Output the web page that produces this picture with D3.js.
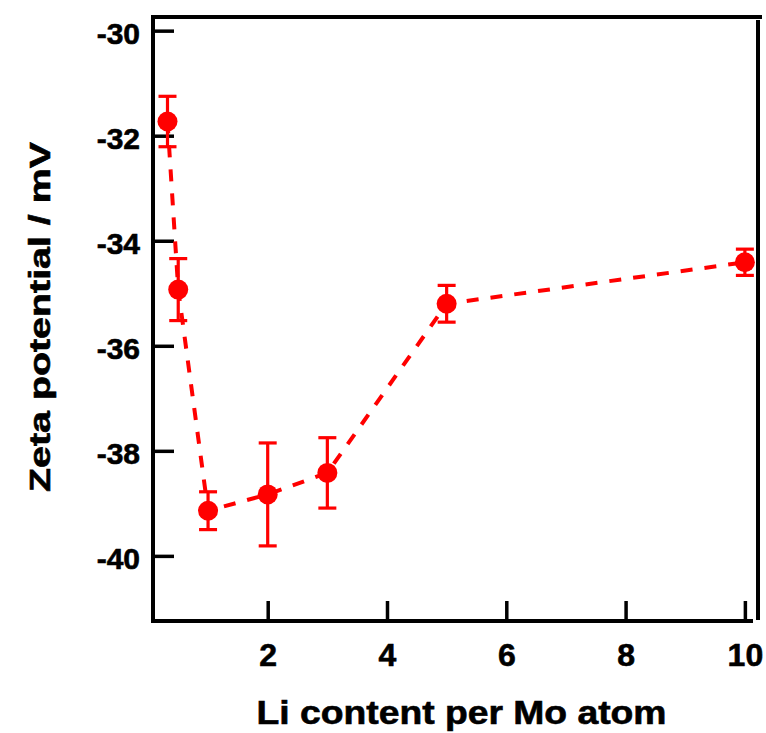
<!DOCTYPE html>
<html>
<head>
<meta charset="utf-8">
<script src="https://cdn.jsdelivr.net/npm/d3@7"></script>
<style>
  html, body { margin: 0; padding: 0; background: #fff; }
  svg { display: block; }
  text { font-family: "Liberation Sans", Arial, sans-serif; font-weight: bold; fill: #000; stroke: #000; stroke-width: 0.6px; }
</style>
</head>
<body>
<svg id="chart" width="766" height="733"></svg>
<script>
// Zeta potential vs. lithium content
const liContent = [0.32, 0.5, 1, 2, 3, 5, 10];
const zetaMean  = [-31.73, -34.93, -39.14, -38.83, -38.42, -35.20, -34.41];
const zetaErr   = [0.48, 0.59, 0.36, 0.98, 0.67, 0.35, 0.25];
const xTicks = [2, 4, 6, 8, 10];
const yTicks = [-30, -32, -34, -36, -38, -40];
const xTitle = "Li content per Mo atom";
const yTitle = "Zeta potential / mV";

const svg = d3.select("#chart");
const plotL = 153, plotR = 758, plotT = 17, plotB = 621;

const x = d3.scaleLinear().domain([0.077, 10.22]).range([plotL, plotR]);
const y = d3.scaleLinear().domain([-41.24, -29.74]).range([plotB, plotT]);

const red = "#ff0000";
const axisW = 4;

// Frame
const frame = svg.append("g").attr("stroke", "#000").attr("stroke-width", axisW).attr("stroke-linecap", "butt");
frame.append("line").attr("x1", plotL - 2).attr("x2", plotR + 4).attr("y1", plotT).attr("y2", plotT);
frame.append("line").attr("x1", plotL).attr("x2", plotL).attr("y1", plotT).attr("y2", plotB + 2);
frame.append("line").attr("x1", plotL - 2).attr("x2", plotR - 5).attr("y1", plotB).attr("y2", plotB);
frame.append("line").attr("x1", plotR).attr("x2", plotR).attr("y1", plotT + 3).attr("y2", plotB - 1);

// Axes with inward ticks
const yAxis = d3.axisLeft(y).tickValues(yTicks).tickSizeInner(-21).tickSizeOuter(0).tickPadding(13);
const gy = svg.append("g").attr("transform", `translate(${plotL},0)`).call(yAxis);
gy.select(".domain").remove();
gy.selectAll(".tick line").attr("stroke", "#000").attr("stroke-width", 3.5);
gy.selectAll(".tick text").attr("font-size", 30).attr("font-family", null)
  .attr("dy", "0.42em")
  .text(d => "-" + Math.abs(d));

const xAxis = d3.axisBottom(x).tickValues(xTicks).tickSizeInner(-20).tickSizeOuter(0).tickPadding(22);
const gx = svg.append("g").attr("transform", `translate(0,${plotB})`).call(xAxis);
gx.select(".domain").remove();
gx.selectAll(".tick line").attr("stroke", "#000").attr("stroke-width", 3.5);
gx.selectAll(".tick text").attr("font-size", 32).attr("font-family", null);

// Axis titles
svg.append("text")
  .attr("x", (256 + 667) / 2).attr("y", 724)
  .attr("text-anchor", "middle").attr("font-size", 33)
  .attr("textLength", 410).attr("lengthAdjust", "spacingAndGlyphs")
  .text(xTitle);

svg.append("text")
  .attr("transform", `translate(50,${(142 + 492) / 2}) rotate(-90)`)
  .attr("text-anchor", "middle").attr("font-size", 29)
  .attr("textLength", 350).attr("lengthAdjust", "spacingAndGlyphs")
  .text(yTitle);

// Data
const data = liContent.map((v, i) => ({ x: v, y: zetaMean[i], e: zetaErr[i] }));

svg.append("path")
  .datum(data)
  .attr("fill", "none")
  .attr("stroke", red)
  .attr("stroke-width", 4)
  .attr("stroke-dasharray", "12,12")
  .attr("d", d3.line().x(d => x(d.x)).y(d => y(d.y)));

const eb = svg.append("g").attr("stroke", red).attr("stroke-width", 3.2);
const capHalf = 9;
data.forEach(d => {
  const cx = x(d.x);
  eb.append("line").attr("x1", cx).attr("x2", cx).attr("y1", y(d.y + d.e)).attr("y2", y(d.y - d.e));
  eb.append("line").attr("x1", cx - capHalf).attr("x2", cx + capHalf).attr("y1", y(d.y + d.e)).attr("y2", y(d.y + d.e));
  eb.append("line").attr("x1", cx - capHalf).attr("x2", cx + capHalf).attr("y1", y(d.y - d.e)).attr("y2", y(d.y - d.e));
});

svg.append("g").selectAll("circle").data(data).join("circle")
  .attr("cx", d => x(d.x)).attr("cy", d => y(d.y)).attr("r", 10)
  .attr("fill", red);
</script>
</body>
</html>
